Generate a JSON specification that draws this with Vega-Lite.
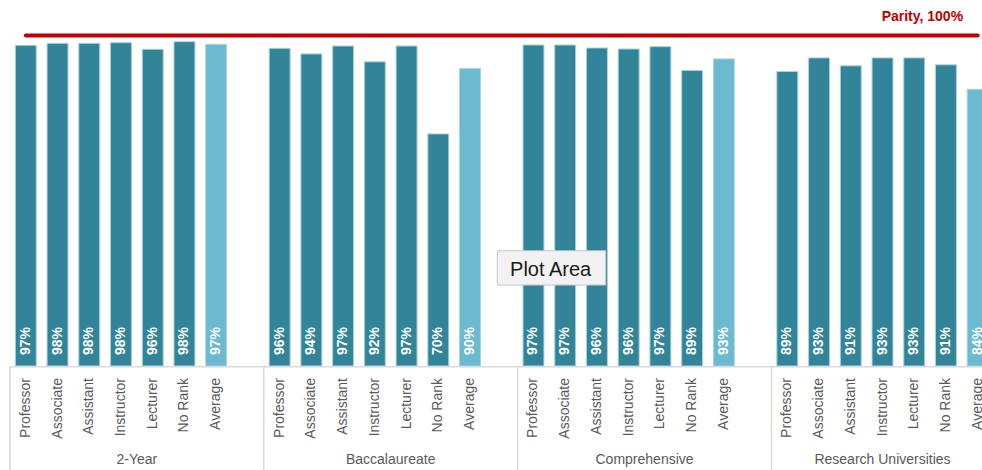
{
  "$schema": "https://vega.github.io/schema/vega-lite/v6.json",
  "width": 982,
  "height": 470,
  "padding": 0,
  "autosize": {"type": "none"},
  "background": "white",
  "config": {"view": {"stroke": null}, "font": "Liberation Sans"},
  "datasets": {
    "bars": [
      {"group": "2-Year", "rank": "Professor", "value": 0.970},
      {"group": "2-Year", "rank": "Associate", "value": 0.976},
      {"group": "2-Year", "rank": "Assistant", "value": 0.976},
      {"group": "2-Year", "rank": "Instructor", "value": 0.978},
      {"group": "2-Year", "rank": "Lecturer", "value": 0.958},
      {"group": "2-Year", "rank": "No Rank", "value": 0.981},
      {"group": "2-Year", "rank": "Average", "value": 0.973},
      {"group": "Baccalaureate", "rank": "Professor", "value": 0.961},
      {"group": "Baccalaureate", "rank": "Associate", "value": 0.944},
      {"group": "Baccalaureate", "rank": "Assistant", "value": 0.968},
      {"group": "Baccalaureate", "rank": "Instructor", "value": 0.920},
      {"group": "Baccalaureate", "rank": "Lecturer", "value": 0.968},
      {"group": "Baccalaureate", "rank": "No Rank", "value": 0.702},
      {"group": "Baccalaureate", "rank": "Average", "value": 0.900},
      {"group": "Comprehensive", "rank": "Professor", "value": 0.971},
      {"group": "Comprehensive", "rank": "Associate", "value": 0.971},
      {"group": "Comprehensive", "rank": "Assistant", "value": 0.962},
      {"group": "Comprehensive", "rank": "Instructor", "value": 0.959},
      {"group": "Comprehensive", "rank": "Lecturer", "value": 0.966},
      {"group": "Comprehensive", "rank": "No Rank", "value": 0.894},
      {"group": "Comprehensive", "rank": "Average", "value": 0.929},
      {"group": "Research Universities", "rank": "Professor", "value": 0.891},
      {"group": "Research Universities", "rank": "Associate", "value": 0.932},
      {"group": "Research Universities", "rank": "Assistant", "value": 0.908},
      {"group": "Research Universities", "rank": "Instructor", "value": 0.932},
      {"group": "Research Universities", "rank": "Lecturer", "value": 0.932},
      {"group": "Research Universities", "rank": "No Rank", "value": 0.911},
      {"group": "Research Universities", "rank": "Average", "value": 0.837}
    ],
    "groups": [
      {"group": "2-Year"},
      {"group": "Baccalaureate"},
      {"group": "Comprehensive"},
      {"group": "Research Universities"}
    ],
    "parityLine": [
      {"group": "2-Year", "rank": "Professor", "value": 1},
      {"group": "Research Universities", "rank": "Average", "value": 1}
    ],
    "parityLabel": [{"group": "Research Universities", "label": "Parity, 100%"}],
    "note": [{"group": "Comprehensive", "label": "Plot Area"}]
  },
  "layer": [
    {
      "data": {"name": "bars"},
      "mark": {"type": "bar", "stroke": "#a9d3df", "strokeWidth": 1},
      "encoding": {
        "x": {"field": "group", "type": "nominal", "axis": null,
              "scale": {"domain": ["2-Year", "Baccalaureate", "Comprehensive", "Research Universities"], "range": [9.95, 1025.3], "paddingInner": 0, "paddingOuter": 0}},
        "xOffset": {"field": "rank", "type": "nominal",
              "scale": {"domain": ["Professor", "Associate", "Assistant", "Instructor", "Lecturer", "No Rank", "Average", "gap"], "paddingInner": 0.34, "paddingOuter": 0.17}},
        "y": {"field": "value", "type": "quantitative", "axis": null,
              "scale": {"domain": [-0.3146, 1.1071], "nice": false, "zero": false}},
        "y2": {"datum": 0},
        "color": {"condition": {"test": "datum.rank === 'Average'", "value": "#6BBACF"}, "value": "#328498"}
      }
    },
    {
      "data": {"name": "bars"},
      "mark": {"type": "text", "angle": 270, "align": "left", "baseline": "middle", "fontWeight": "bold", "fontSize": 14, "color": "white"},
      "encoding": {
        "x": {"field": "group", "type": "nominal", "axis": null},
        "xOffset": {"field": "rank", "type": "nominal"},
        "y": {"datum": 0.0333, "type": "quantitative"},
        "text": {"field": "value", "type": "quantitative", "format": ".0%"}
      }
    },
    {
      "data": {"name": "bars"},
      "mark": {"type": "text", "angle": 270, "align": "right", "baseline": "middle", "fontSize": 14, "color": "#595959"},
      "encoding": {
        "x": {"field": "group", "type": "nominal", "axis": null},
        "xOffset": {"field": "rank", "type": "nominal"},
        "y": {"datum": -0.0363, "type": "quantitative"},
        "text": {"field": "rank", "type": "nominal"}
      }
    },
    {
      "data": {"name": "groups"},
      "mark": {"type": "rule", "color": "#d9d9d9", "strokeWidth": 1.5},
      "encoding": {
        "x": {"field": "group", "type": "nominal", "bandPosition": 0, "axis": null},
        "y": {"datum": 0, "type": "quantitative"},
        "y2": {"datum": -0.3146}
      }
    },
    {
      "data": {"name": "groups"},
      "mark": {"type": "bar", "color": "#d9d9d9", "width": {"band": 1}},
      "encoding": {
        "x": {"field": "group", "type": "nominal", "axis": null},
        "y": {"datum": 0, "type": "quantitative"},
        "y2": {"datum": -0.0045}
      }
    },
    {
      "data": {"name": "groups"},
      "transform": [{"filter": "datum.group !== 'Research Universities'"}],
      "mark": {"type": "text", "align": "center", "baseline": "alphabetic", "fontSize": 14, "color": "#595959"},
      "encoding": {
        "x": {"field": "group", "type": "nominal", "axis": null},
        "y": {"datum": -0.2964, "type": "quantitative"},
        "text": {"field": "group", "type": "nominal"}
      }
    },
    {
      "data": {"name": "groups"},
      "transform": [{"filter": "datum.group === 'Research Universities'"}],
      "mark": {"type": "text", "align": "center", "baseline": "alphabetic", "fontSize": 14, "color": "#595959"},
      "encoding": {
        "x": {"field": "group", "type": "nominal", "bandPosition": 0.4375, "axis": null},
        "y": {"datum": -0.2964, "type": "quantitative"},
        "text": {"field": "group", "type": "nominal"}
      }
    },
    {
      "data": {"name": "parityLine"},
      "mark": {"type": "line", "color": "#C00000", "strokeWidth": 4, "strokeCap": "round"},
      "encoding": {
        "x": {"field": "group", "type": "nominal", "axis": null},
        "xOffset": {"field": "rank", "type": "nominal"},
        "y": {"field": "value", "type": "quantitative"}
      }
    },
    {
      "data": {"name": "parityLabel"},
      "mark": {"type": "text", "align": "right", "baseline": "alphabetic", "fontSize": 14, "fontWeight": "bold", "color": "#C00000"},
      "encoding": {
        "x": {"field": "group", "type": "nominal", "bandPosition": 0.755, "axis": null},
        "y": {"datum": 1.0445, "type": "quantitative"},
        "text": {"field": "label", "type": "nominal"}
      }
    },
    {
      "data": {"name": "note"},
      "mark": {"type": "point", "filled": true, "shape": "M-1,-0.3164L1,-0.3164L1,0.3164L-1,0.3164Z", "size": 11750, "fill": "#f2f2f2", "stroke": "#c6c6c6", "strokeWidth": 1, "opacity": 1, "fillOpacity": 1},
      "encoding": {
        "x": {"field": "group", "type": "nominal", "bandPosition": 0.1335, "axis": null},
        "y": {"datum": 0.2967, "type": "quantitative"}
      }
    },
    {
      "data": {"name": "note"},
      "mark": {"type": "text", "align": "center", "baseline": "middle", "fontSize": 20, "color": "#1a1a1a"},
      "encoding": {
        "x": {"field": "group", "type": "nominal", "bandPosition": 0.13, "axis": null},
        "y": {"datum": 0.2904, "type": "quantitative"},
        "text": {"field": "label", "type": "nominal"}
      }
    }
  ]
}
